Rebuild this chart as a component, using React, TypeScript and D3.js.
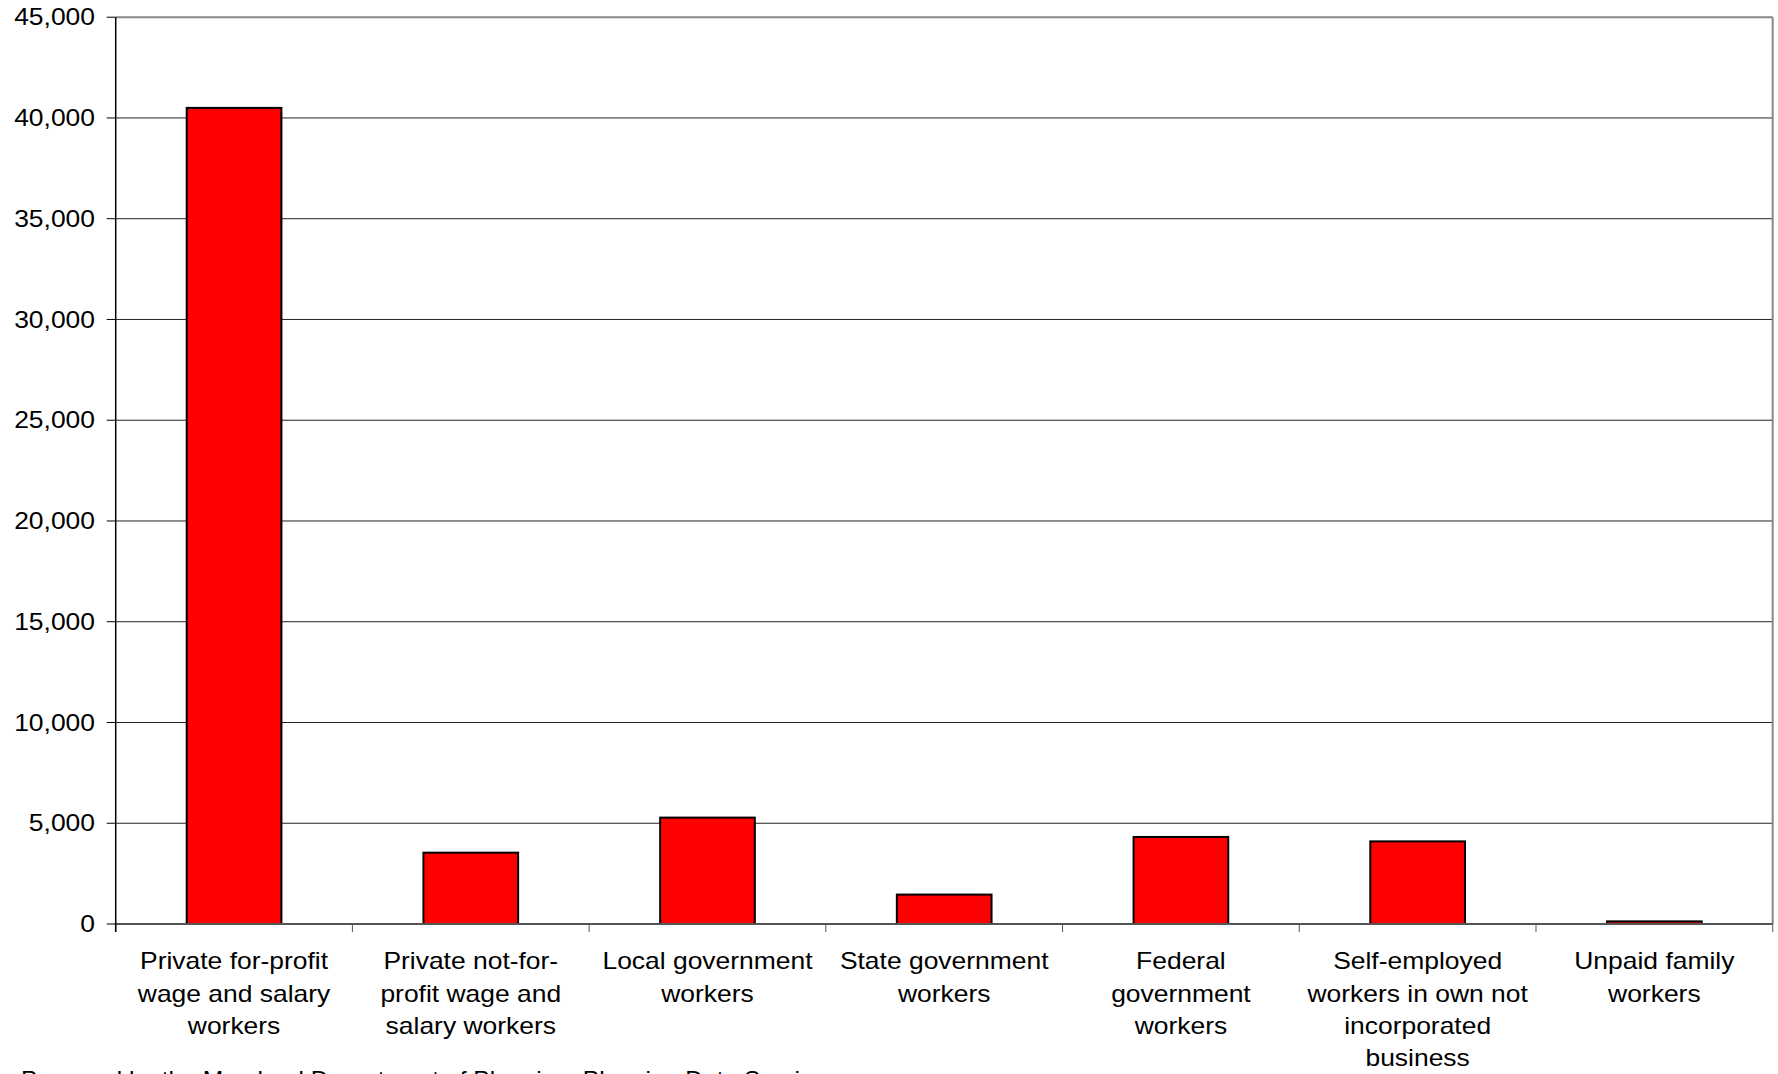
import React from "react";
import * as d3 from "d3";

const categories: string[][] = [
  ["Private for-profit", "wage and salary", "workers"],
  ["Private not-for-", "profit wage and", "salary workers"],
  ["Local government", "workers"],
  ["State government", "workers"],
  ["Federal", "government", "workers"],
  ["Self-employed", "workers in own not", "incorporated", "business"],
  ["Unpaid family", "workers"],
];
const values: number[] = [40500, 3540, 5280, 1460, 4320, 4100, 130];
const yTicks: number[] = [0, 5000, 10000, 15000, 20000, 25000, 30000, 35000, 40000, 45000];
const sourceText = "Prepared by the Maryland Department of Planning, Planning Data Services";

const W = 1778;
const H = 1074;
const left = 115.7;
const right = 1772.7;
const top = 17.2;
const bottom = 924;
const FONT = "'Liberation Sans', Arial, Helvetica, sans-serif";
const FS = 23;
const SX = 1.15;
const SX_SRC = 1.07;

export default function App() {
  const keys = categories.map((c) => c.join(" "));
  const x = d3.scaleBand<string>().domain(keys).range([left, right]).paddingInner(0.6).paddingOuter(0.3);
  const y = d3.scaleLinear().domain([0, 45000]).range([bottom, top]);
  const step = x.step();
  const fmt = d3.format(",");
  const bandEdges = d3.range(keys.length + 1).map((i) => left + i * step);

  return (
    <svg width={W} height={H} style={{ position: "absolute", left: 0, top: 0, background: "#fff" }}>
      <rect x={0} y={0} width={W} height={H} fill="#fff" />
      {yTicks.filter((t) => t > 0 && t < 45000).map((t) => (
        <line key={"g" + t} x1={left} x2={right} y1={y(t)} y2={y(t)} stroke="#222" strokeWidth={1} />
      ))}
      <line x1={left} x2={right} y1={y(45000)} y2={y(45000)} stroke="#888" strokeWidth={2} />
      <line x1={right} x2={right} y1={y(45000)} y2={bottom} stroke="#888" strokeWidth={2} />
      {values.map((v, i) => (
        <rect
          key={"b" + i}
          x={x(keys[i])}
          y={y(v)}
          width={x.bandwidth()}
          height={bottom - y(v)}
          fill="#FF0000"
          stroke="#000"
          strokeWidth={2}
        />
      ))}
      <line x1={left} x2={right} y1={bottom} y2={bottom} stroke="#555" strokeWidth={2} />
      {bandEdges.map((bx, i) => (
        <line key={"xt" + i} x1={bx} x2={bx} y1={bottom} y2={bottom + 8} stroke="#555" strokeWidth={1} />
      ))}
      <line x1={left} x2={left} y1={top} y2={bottom + 8} stroke="#000" strokeWidth={1.5} />
      {yTicks.map((t) => (
        <g key={"yt" + t}>
          <line x1={left - 9} x2={left} y1={y(t)} y2={y(t)} stroke="#000" strokeWidth={1} />
          <g transform={`translate(95,${y(t) + 8.2}) scale(${SX},1)`}>
            <text textAnchor="end" fontFamily={FONT} fontSize={FS} fill="#000">
              {fmt(t)}
            </text>
          </g>
        </g>
      ))}
      {categories.map((lines, i) => (
        <g key={"cl" + i}>
          {lines.map((ln, j) => (
            <g key={j} transform={`translate(${(x(keys[i]) as number) + x.bandwidth() / 2},${969.3 + j * 32.2}) scale(${SX},1)`}>
              <text textAnchor="middle" fontFamily={FONT} fontSize={FS} fill="#000">
                {ln}
              </text>
            </g>
          ))}
        </g>
      ))}
      <g transform={`translate(21,1088) scale(${SX_SRC},1)`}>
        <text fontFamily={FONT} fontSize={FS} fill="#000">
          {sourceText}
        </text>
      </g>
    </svg>
  );
}
